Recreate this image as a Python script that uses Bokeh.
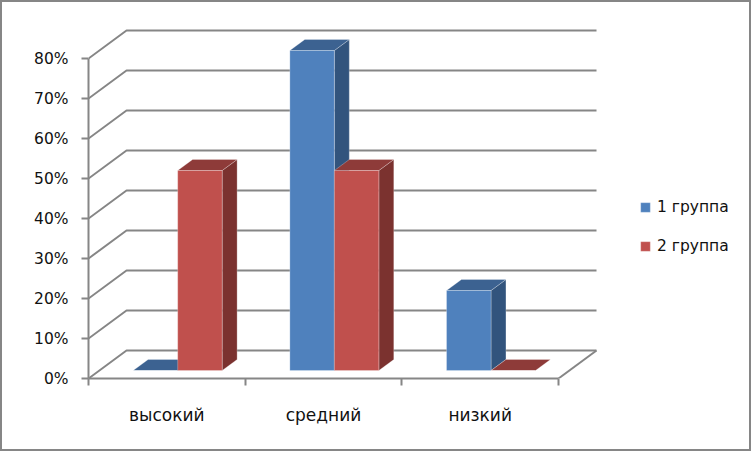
from bokeh.plotting import figure
from bokeh.models import FixedTicker, Legend, LegendItem, Range1d
from bokeh.embed import file_html
from bokeh.resources import INLINE

categories = ["высокий", "средний", "низкий"]
series_names = ["1 группа", "2 группа"]
group1 = [0, 80, 20]
group2 = [50, 50, 0]
y_ticks = [0, 10, 20, 30, 40, 50, 60, 70, 80]

FONT = "DejaVu Sans"
GRID = "#868686"
W, H = 747, 447
LEFT, RIGHT, TOP, BOTTOM = 86, 4, 1, 75
PX_X = 156.67  # pixels per category
PX_Y = 4.0     # pixels per percent
DX = 38 / PX_X  # oblique offset of the back wall
DY = 28 / PX_Y
BAR_W = 44.5 / PX_X
D0, D1 = 8 / 28, 19 / 28  # bar depth in the box

p = figure(width=W, height=H, output_backend="svg", toolbar_location=None,
           min_border_left=LEFT, min_border_right=RIGHT, min_border_top=TOP,
           min_border_bottom=BOTTOM, background_fill_color="white",
           x_range=Range1d(0, 661 / PX_X),
           y_range=Range1d(0, 375 / PX_Y),
           outline_line_color=None, margin=(0, 0, 0, 0),
           styles={"border": f"2px solid {GRID}", "box-sizing": "content-box"})
p.grid.visible = False

n = len(categories)
# walls
for t in y_ticks:
    p.line([0, DX, n + DX], [t, t + DY, t + DY], line_color=GRID, line_width=2)
p.line([n, n + DX], [0, DY], line_color=GRID, line_width=2)


def box(i, offset, v, front, top, side):
    x0 = i + 0.5 + D0 * DX + offset * BAR_W
    x1 = x0 + BAR_W
    y0, yt = D0 * DY, v + D0 * DY
    ddx, ddy = (D1 - D0) * DX, (D1 - D0) * DY
    edge = dict(line_color="white", line_alpha=0.25, line_width=1)
    p.patch([x1, x1 + ddx, x1 + ddx, x1], [y0, y0 + ddy, yt + ddy, yt], fill_color=side, **edge)
    p.patch([x0, x1, x1 + ddx, x0 + ddx], [yt, yt, yt + ddy, yt + ddy], fill_color=top, **edge)
    return p.patch([x0, x1, x1, x0], [y0, y0, yt, yt], fill_color=front, **edge)


r1 = r2 = None
for i in range(n):
    r1 = box(i, -1, group1[i], "#4F81BD", "#3C6291", "#32547D")
    r2 = box(i, 0, group2[i], "#C0504D", "#8E3B39", "#7B322F")

# y axis
ya = p.yaxis[0]
ya.ticker = FixedTicker(ticks=y_ticks)
ya.bounds = (0, 80)
ya.major_label_overrides = {t: f"{t}%" for t in y_ticks}
ya.axis_line_color = GRID
ya.axis_line_width = 2
ya.major_tick_line_color = GRID
ya.major_tick_line_width = 2
ya.major_tick_out = 7
ya.major_tick_in = 0
ya.minor_tick_line_color = None
ya.major_label_standoff = 13
ya.major_label_text_font = FONT
ya.major_label_text_font_size = "15.5px"
ya.major_label_text_color = "#111111"

# x axis
xa = p.xaxis[0]
xa.ticker = FixedTicker(ticks=[i + 0.5 for i in range(n)], minor_ticks=list(range(n + 1)))
xa.bounds = (0, n)
xa.major_label_overrides = {i + 0.5: c for i, c in enumerate(categories)}
xa.axis_line_color = GRID
xa.axis_line_width = 2
xa.major_tick_line_color = None
xa.major_tick_out = 0
xa.major_tick_in = 0
xa.minor_tick_line_color = GRID
xa.minor_tick_line_width = 2
xa.minor_tick_out = 7
xa.minor_tick_in = 0
xa.major_label_standoff = 19
xa.major_label_text_font = FONT
xa.major_label_text_font_size = "17px"
xa.major_label_text_color = "#111111"

legend = Legend(items=[LegendItem(label=series_names[0], renderers=[r1]),
                       LegendItem(label=series_names[1], renderers=[r2])],
                location=(551, 123), background_fill_alpha=0, border_line_color=None,
                glyph_width=12, glyph_height=12, label_standoff=6, spacing=21,
                padding=0, margin=0, label_text_font=FONT, label_text_font_size="15.5px",
                label_text_color="#111111", label_height=18)
p.add_layout(legend)

open("out.html", "w").write(file_html(p, INLINE))
